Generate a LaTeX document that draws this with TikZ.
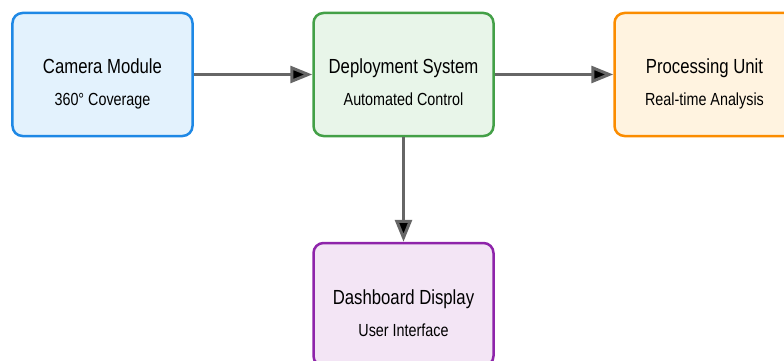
\documentclass[tikz,border=0pt]{standalone}
\usepackage{fontspec}
\setmainfont{Liberation Sans}[FakeStretch=0.82]
\usetikzlibrary{arrows.meta,positioning}
\definecolor{camline}{HTML}{1E88E5}
\definecolor{camfill}{HTML}{E3F2FD}
\definecolor{depline}{HTML}{43A047}
\definecolor{depfill}{HTML}{E8F5E9}
\definecolor{procline}{HTML}{FB8C00}
\definecolor{procfill}{HTML}{FFF3E0}
\definecolor{dashline}{HTML}{8E24AA}
\definecolor{dashfill}{HTML}{F3E5F5}
\definecolor{linkgray}{HTML}{666666}
\tikzstyle{unit}=[draw, line width=2.5pt, rounded corners=10pt, minimum width=180pt, minimum height=123pt, align=center, text height=63pt, text depth=0pt]
\tikzstyle{link}=[draw=linkgray, line width=3pt, -{Triangle[length=22pt,width=17pt]}]
\newcommand{\subline}[1]{{\fontsize{17.5}{21}\selectfont #1}}

\begin{document}
\begin{tikzpicture}[node distance=301pt,font=\fontsize{20.4}{24}\selectfont]
        \useasboundingbox (-102.5pt,74.5pt) rectangle (681.5pt,-286.5pt);
        \clip (-102.5pt,74.5pt) rectangle (681.5pt,-286.5pt);
        \node [unit, draw=camline, fill=camfill] (camera) {Camera Module\\[8pt]\subline{360° Coverage}};
        \node [unit, draw=depline, fill=depfill] (deploy) [right of=camera] {Deployment System\\[8pt]\subline{Automated Control}};
        \node [unit, draw=procline, fill=procfill] (proc) [right of=deploy] {Processing Unit\\[8pt]\subline{Real-time Analysis}};
        \node [unit, draw=dashline, fill=dashfill] (dash) [below of=deploy, node distance=230pt] {Dashboard Display\\[8pt]\subline{User Interface}};
        \path[link]
        (camera) edge (deploy)
        (deploy) edge (proc)
        (deploy) edge (dash);
\end{tikzpicture}
\end{document}
